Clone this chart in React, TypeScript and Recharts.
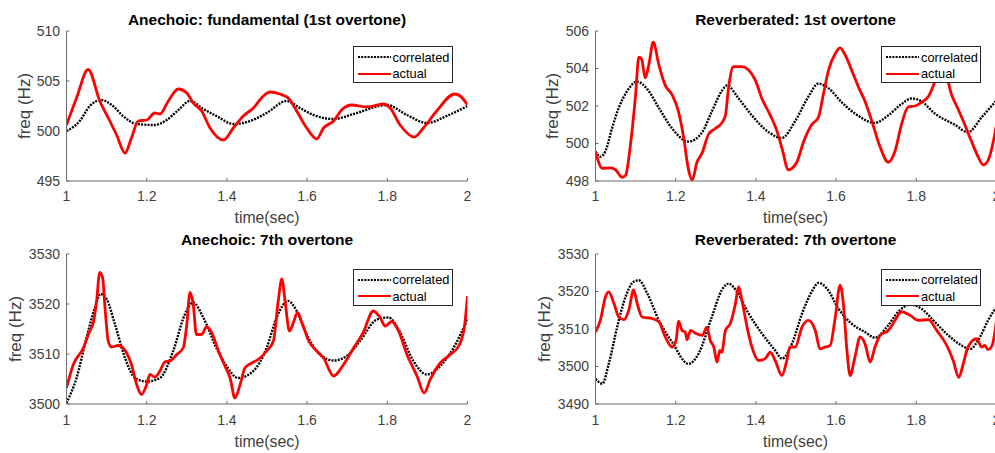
import React from 'react';
import { LineChart, Line, XAxis, YAxis } from 'recharts';

// [time (s), frequency (Hz)]
const anechoicFundCorrelated = [
  [1.0, 500.0], [1.033, 501.0], [1.058, 502.5], [1.087, 503.1], [1.116, 502.5], [1.141, 501.5],
  [1.175, 500.7], [1.22, 500.6], [1.25, 501.1], [1.279, 502.1], [1.308, 503.0], [1.341, 502.2],
  [1.374, 501.5], [1.416, 500.7], [1.458, 501.0], [1.499, 501.8], [1.549, 503.0], [1.582, 502.3],
  [1.616, 501.6], [1.666, 501.2], [1.716, 501.7], [1.799, 502.6], [1.849, 501.6], [1.899, 500.8],
  [1.948, 501.5], [2.0, 502.5],
];
const anechoicFundActual = [
  [1.0, 500.6], [1.025, 503.3], [1.054, 506.15], [1.083, 503.0], [1.108, 501.0], [1.125, 499.6],
  [1.146, 497.8], [1.162, 499.3], [1.179, 501.0], [1.2, 501.1], [1.22, 501.8], [1.233, 501.7],
  [1.254, 503.0], [1.279, 504.2], [1.3, 503.8], [1.316, 502.8], [1.337, 502.0], [1.358, 500.3],
  [1.391, 499.1], [1.416, 500.3], [1.441, 501.5], [1.466, 502.3], [1.491, 503.5], [1.507, 503.9],
  [1.532, 503.7], [1.553, 503.3], [1.574, 502.0], [1.599, 500.3], [1.624, 499.2], [1.641, 500.3],
  [1.666, 501.0], [1.686, 502.1], [1.711, 502.6], [1.749, 502.4], [1.79, 502.7], [1.807, 502.3],
  [1.832, 500.6], [1.867, 499.4], [1.89, 500.3], [1.923, 502.0], [1.968, 503.7], [1.982, 503.5],
  [2.0, 502.6],
];

const reverbFundCorrelated = [
  [1.0, 499.57], [1.012, 499.3], [1.025, 499.6], [1.041, 500.8], [1.058, 501.9], [1.079, 502.8],
  [1.104, 503.3], [1.129, 502.9], [1.158, 501.9], [1.191, 500.8], [1.232, 500.1], [1.266, 500.6],
  [1.29, 501.7], [1.315, 502.8], [1.328, 503.1], [1.357, 502.4], [1.39, 501.5], [1.432, 500.6],
  [1.465, 500.3], [1.498, 501.2], [1.531, 502.5], [1.556, 503.2], [1.581, 502.95], [1.614, 502.2],
  [1.647, 501.6], [1.697, 501.1], [1.73, 501.5], [1.763, 502.1], [1.788, 502.4], [1.813, 502.25],
  [1.846, 501.6], [1.896, 501.0], [1.929, 500.6], [1.963, 501.4], [2.0, 502.3],
];
const reverbFundActual = [
  [1.0, 499.57], [1.017, 498.68], [1.037, 498.7], [1.05, 498.6], [1.066, 498.2], [1.075, 498.3],
  [1.087, 499.9], [1.1, 502.6], [1.108, 504.6], [1.115, 504.5], [1.124, 503.5], [1.133, 504.2],
  [1.144, 505.4], [1.158, 504.2], [1.174, 503.1], [1.191, 502.6], [1.207, 501.7], [1.22, 500.3],
  [1.231, 498.7], [1.241, 498.05], [1.253, 499.0], [1.266, 499.5], [1.282, 500.5], [1.299, 500.8],
  [1.315, 501.1], [1.324, 501.5], [1.332, 503.0], [1.344, 504.1], [1.365, 504.1], [1.398, 503.4],
  [1.415, 502.4], [1.436, 501.5], [1.452, 500.7], [1.465, 499.75], [1.481, 498.6], [1.502, 499.0],
  [1.519, 500.1], [1.539, 501.0], [1.556, 501.4], [1.568, 502.6], [1.581, 503.9], [1.598, 504.8],
  [1.61, 505.1], [1.622, 504.75], [1.639, 503.9], [1.656, 503.0], [1.672, 502.25], [1.689, 501.2],
  [1.71, 499.8], [1.73, 499.0], [1.747, 499.6], [1.763, 501.0], [1.78, 501.95], [1.797, 502.0],
  [1.813, 502.2], [1.83, 502.5], [1.851, 503.5], [1.868, 504.0], [1.888, 502.6], [1.905, 501.8],
  [1.921, 501.0], [1.938, 500.1], [1.954, 499.3], [1.967, 498.86], [1.979, 499.1], [1.992, 500.1],
  [2.0, 501.0],
];

const anechoic7thCorrelated = [
  [1.0, 3500.2], [1.025, 3505.2], [1.05, 3513.3], [1.071, 3519.3], [1.085, 3522.0], [1.1, 3521.0],
  [1.121, 3515.9], [1.146, 3509.2], [1.171, 3505.2], [1.2, 3504.5], [1.233, 3505.2], [1.266, 3510.6],
  [1.295, 3517.9], [1.316, 3520.3], [1.341, 3517.3], [1.374, 3511.2], [1.399, 3507.6], [1.428, 3505.2],
  [1.466, 3506.6], [1.499, 3511.2], [1.524, 3517.3], [1.553, 3520.6], [1.574, 3518.6], [1.599, 3513.9],
  [1.632, 3509.9], [1.666, 3508.7], [1.699, 3509.6], [1.732, 3512.6], [1.774, 3516.9], [1.803, 3517.3],
  [1.832, 3514.3], [1.865, 3508.6], [1.899, 3505.9], [1.932, 3507.6], [1.965, 3511.2], [2.0, 3517.0],
];
const anechoic7thActual = [
  [1.0, 3503.2], [1.017, 3507.9], [1.042, 3511.2], [1.058, 3514.6], [1.067, 3516.3], [1.075, 3520.6],
  [1.083, 3526.3], [1.09, 3525.3], [1.096, 3519.3], [1.104, 3512.6], [1.112, 3511.4], [1.129, 3511.7],
  [1.15, 3510.2], [1.162, 3507.9], [1.175, 3503.9], [1.187, 3501.9], [1.2, 3503.9], [1.208, 3505.9],
  [1.22, 3505.4], [1.233, 3506.6], [1.245, 3508.4], [1.258, 3508.6], [1.275, 3509.9], [1.291, 3511.2],
  [1.3, 3515.9], [1.308, 3522.3], [1.316, 3520.0], [1.324, 3513.9], [1.337, 3513.9], [1.349, 3515.4],
  [1.362, 3514.3], [1.379, 3510.6], [1.395, 3507.6], [1.408, 3505.2], [1.42, 3501.2], [1.433, 3503.9],
  [1.445, 3507.2], [1.462, 3508.2], [1.478, 3508.9], [1.499, 3510.6], [1.516, 3512.6], [1.528, 3520.6],
  [1.537, 3525.0], [1.545, 3520.6], [1.556, 3514.6], [1.566, 3516.3], [1.576, 3518.3], [1.587, 3516.3],
  [1.604, 3512.6], [1.624, 3510.6], [1.641, 3509.2], [1.666, 3505.6], [1.691, 3507.9], [1.716, 3511.2],
  [1.74, 3514.3], [1.765, 3518.6], [1.782, 3517.3], [1.795, 3515.6], [1.811, 3516.5], [1.828, 3514.6],
  [1.849, 3509.9], [1.874, 3505.6], [1.892, 3502.2], [1.907, 3504.9], [1.932, 3508.2], [1.957, 3509.9],
  [1.978, 3511.6], [1.992, 3515.3], [2.0, 3521.6],
];

const reverb7thCorrelated = [
  [1.0, 3496.7], [1.017, 3495.4], [1.033, 3500.7], [1.054, 3510.5], [1.075, 3518.6], [1.095, 3522.6],
  [1.108, 3523.0], [1.129, 3519.5], [1.158, 3512.3], [1.191, 3506.5], [1.232, 3500.7], [1.257, 3503.4],
  [1.29, 3513.2], [1.315, 3520.4], [1.332, 3522.1], [1.353, 3519.9], [1.382, 3514.1], [1.415, 3508.8],
  [1.448, 3504.3], [1.465, 3502.1], [1.49, 3506.1], [1.515, 3514.1], [1.539, 3519.9], [1.556, 3522.3],
  [1.577, 3520.8], [1.606, 3515.4], [1.639, 3511.4], [1.672, 3509.2], [1.697, 3507.7], [1.73, 3511.0],
  [1.755, 3514.6], [1.785, 3516.5], [1.813, 3515.4], [1.846, 3511.9], [1.88, 3508.3], [1.913, 3505.6],
  [1.934, 3504.7], [1.959, 3507.9], [1.979, 3512.3], [2.0, 3515.9],
];
const reverb7thActual = [
  [1.0, 3509.2], [1.012, 3512.3], [1.025, 3518.6], [1.033, 3519.9], [1.046, 3516.8], [1.058, 3513.2],
  [1.071, 3512.5], [1.083, 3515.0], [1.095, 3520.4], [1.104, 3516.8], [1.116, 3513.2], [1.141, 3512.8],
  [1.158, 3511.9], [1.174, 3507.9], [1.191, 3505.2], [1.201, 3507.0], [1.207, 3512.1], [1.216, 3509.6],
  [1.224, 3509.2], [1.228, 3507.1], [1.237, 3509.6], [1.249, 3508.9], [1.266, 3508.3], [1.278, 3510.5],
  [1.286, 3507.0], [1.295, 3505.2], [1.303, 3501.2], [1.31, 3504.3], [1.315, 3503.8], [1.324, 3509.6],
  [1.336, 3511.4], [1.349, 3516.8], [1.357, 3521.3], [1.365, 3517.7], [1.378, 3510.5], [1.39, 3505.2],
  [1.407, 3501.6], [1.423, 3502.1], [1.436, 3503.8], [1.448, 3501.6], [1.465, 3497.6], [1.477, 3501.6],
  [1.485, 3505.2], [1.498, 3505.2], [1.515, 3510.5], [1.531, 3512.3], [1.548, 3509.6], [1.56, 3504.7],
  [1.573, 3505.2], [1.585, 3505.6], [1.598, 3513.2], [1.61, 3521.7], [1.618, 3516.8], [1.627, 3504.3],
  [1.635, 3497.6], [1.647, 3502.5], [1.66, 3507.9], [1.672, 3506.1], [1.685, 3501.2], [1.697, 3505.2],
  [1.71, 3508.3], [1.73, 3509.6], [1.747, 3512.3], [1.763, 3514.6], [1.784, 3513.7], [1.805, 3512.3],
  [1.83, 3512.5], [1.851, 3509.6], [1.876, 3505.6], [1.892, 3501.6], [1.906, 3497.1], [1.917, 3500.7],
  [1.929, 3505.2], [1.95, 3507.4], [1.963, 3505.2], [1.971, 3505.6], [1.979, 3504.5], [1.989, 3505.6],
  [2.0, 3512.3],
];

const timeTicks = [1, 1.2, 1.4, 1.6, 1.8, 2];
const anechoicFundTicks = [495, 500, 505, 510];
const reverbFundTicks = [498, 500, 502, 504, 506];
const anechoic7thTicks = [3500, 3510, 3520, 3530];
const reverb7thTicks = [3490, 3500, 3510, 3520, 3530];

const FONT = '"Liberation Sans", Arial, Helvetica, sans-serif';
const AXIS_COLOR = '#6b6b6b';
const TEXT_COLOR = '#404040';
const PLOT_W = 401;
const Y_AXIS_W = 66.5;

const toRows = (pairs: number[][]) => pairs.map(([t, v]) => ({ t, v }));

const LegendBox = ({ left, top }: { left: number; top: number }) => (
  <div
    style={{
      position: 'absolute', left, top, width: 100, height: 37, boxSizing: 'border-box',
      border: '1px solid #262626', background: '#fff', fontSize: 12.8, color: '#000',
      paddingTop: 2, paddingLeft: 4,
    }}
  >
    <div style={{ display: 'flex', alignItems: 'center', height: 16 }}>
      <svg width={33} height={4} style={{ marginRight: 2 }}>
        <line x1={0} y1={2} x2={33} y2={2} stroke="#000" strokeWidth={2} strokeDasharray="2 1.2" />
      </svg>
      <span>correlated</span>
    </div>
    <div style={{ display: 'flex', alignItems: 'center', height: 17 }}>
      <svg width={33} height={4} style={{ marginRight: 2 }}>
        <line x1={0} y1={2} x2={33} y2={2} stroke="#ff0000" strokeWidth={2.2} />
      </svg>
      <span>actual</span>
    </div>
  </div>
);

interface PanelProps {
  title: string;
  plotLeft: number;
  plotTop: number;
  plotBottom: number;
  titleY: number;
  tickY: number;
  labelY: number;
  yLabelGap: number;
  yTicks: number[];
  correlated: number[][];
  actual: number[][];
}

const Panel = ({ title, plotLeft, plotTop, plotBottom, titleY, tickY, labelY, yLabelGap, yTicks, correlated, actual }: PanelProps) => {
  const chartLeft = plotLeft - Y_AXIS_W;
  const chartTop = plotTop - 8;
  const xAxisH = 30;
  const chartH = plotBottom - plotTop + 8 + xAxisH;
  const chartW = Y_AXIS_W + PLOT_W + 4;
  const midX = plotLeft + PLOT_W / 2;
  const midY = (plotTop + plotBottom) / 2;
  return (
    <>
      <div
        style={{
          position: 'absolute', left: plotLeft - 60, width: PLOT_W + 120, top: titleY - 10, height: 20,
          lineHeight: '20px', textAlign: 'center', fontWeight: 'bold', fontSize: 15.5, color: '#000',
        }}
      >
        {title}
      </div>
      <div style={{ position: 'absolute', left: chartLeft, top: chartTop }}>
        <LineChart width={chartW} height={chartH} margin={{ top: 8, right: 4, left: 0, bottom: 0 }}>
          <XAxis
            type="number"
            dataKey="t"
            domain={[1, 2]}
            ticks={timeTicks}
            allowDataOverflow
            height={xAxisH}
            stroke={AXIS_COLOR}
            tickSize={-3}
            tickMargin={tickY - plotBottom - 2}
            tick={{ fill: TEXT_COLOR, fontSize: 14, fontFamily: FONT }}
            interval={0}
          />
          <YAxis
            type="number"
            domain={[yTicks[0], yTicks[yTicks.length - 1]]}
            ticks={yTicks}
            allowDataOverflow
            width={Y_AXIS_W}
            stroke={AXIS_COLOR}
            tickSize={-3}
            tickMargin={9.5}
            tick={{ fill: TEXT_COLOR, fontSize: 14, fontFamily: FONT }}
            interval={0}
          />
          <Line
            data={toRows(correlated)}
            dataKey="v"
            type="monotone"
            stroke="#000"
            strokeWidth={2.4}
            strokeDasharray="2 1.2"
            dot={false}
            activeDot={false}
            isAnimationActive={false}
          />
          <Line
            data={toRows(actual)}
            dataKey="v"
            type="monotone"
            stroke="#ff0000"
            strokeWidth={2.8}
            dot={false}
            activeDot={false}
            isAnimationActive={false}
          />
        </LineChart>
      </div>
      <div
        style={{
          position: 'absolute', left: midX - 60, width: 120, top: labelY - 10, height: 20,
          lineHeight: '20px', textAlign: 'center', fontSize: 15.8, color: TEXT_COLOR,
        }}
      >
        time(sec)
      </div>
      <div
        style={{
          position: 'absolute', left: plotLeft - yLabelGap - 60, top: midY - 10, width: 120, height: 20,
          lineHeight: '20px', textAlign: 'center', fontSize: 17, color: TEXT_COLOR,
          transform: 'rotate(-90deg)',
        }}
      >
        freq (Hz)
      </div>
      <LegendBox left={plotLeft + PLOT_W - 115} top={plotTop + 15} />
    </>
  );
};

export default function App() {
  return (
    <div
      style={{
        position: 'absolute', left: 0, top: 0, width: 995, height: 453, overflow: 'hidden',
        background: '#fff', fontFamily: FONT,
      }}
    >
      <Panel
        title="Anechoic: fundamental (1st overtone)"
        plotLeft={66.5} plotTop={31} plotBottom={181}
        titleY={19.5} tickY={196.5} labelY={217.5} yLabelGap={41.5}
        yTicks={anechoicFundTicks}
        correlated={anechoicFundCorrelated}
        actual={anechoicFundActual}
      />
      <Panel
        title="Reverberated: 1st overtone"
        plotLeft={595} plotTop={31} plotBottom={181}
        titleY={19.5} tickY={196.5} labelY={217.5} yLabelGap={42.5}
        yTicks={reverbFundTicks}
        correlated={reverbFundCorrelated}
        actual={reverbFundActual}
      />
      <Panel
        title="Anechoic: 7th overtone"
        plotLeft={66.5} plotTop={253.5} plotBottom={403.5}
        titleY={240} tickY={420} labelY={442} yLabelGap={51}
        yTicks={anechoic7thTicks}
        correlated={anechoic7thCorrelated}
        actual={anechoic7thActual}
      />
      <Panel
        title="Reverberated: 7th overtone"
        plotLeft={595} plotTop={253.5} plotBottom={403.5}
        titleY={240} tickY={420} labelY={442} yLabelGap={50}
        yTicks={reverb7thTicks}
        correlated={reverb7thCorrelated}
        actual={reverb7thActual}
      />
    </div>
  );
}
